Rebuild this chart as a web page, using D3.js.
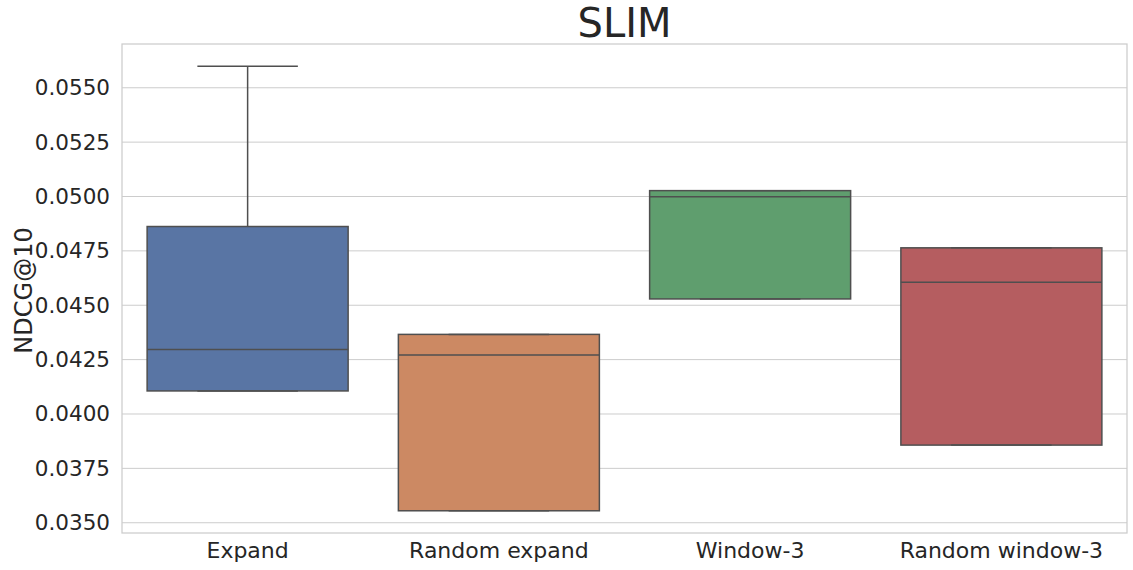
<!DOCTYPE html>
<html lang="en">
<head>
<meta charset="UTF-8">
<title>SLIM</title>
<style>
  body { margin: 0; background: #fff; }
  svg { display: block; }
  svg text { font-family: "DejaVu Sans", Verdana, sans-serif; }
  .grid line { stroke: #cccccc; stroke-width: 1; }
  .tick text { fill: #262626; font-size: 21.5px; }
</style>
</head>
<body>
<div id="chart"></div>
<script src="https://d3js.org/d3.v7.min.js"></script>
<script>
// values
const categories = ["Expand", "Random expand", "Window-3", "Random window-3"];
const whiskerLow = [0.04106, 0.03555, 0.04529, 0.03857];
const q1 = [0.04106, 0.03555, 0.04529, 0.03857];
const median = [0.04297, 0.04271, 0.04999, 0.04606];
const q3 = [0.04862, 0.04366, 0.05027, 0.04764];
const whiskerHigh = [0.05599, 0.04366, 0.05027, 0.04764];
const yTicks = [0.0350, 0.0375, 0.0400, 0.0425, 0.0450, 0.0475, 0.0500, 0.0525, 0.0550];
const colors = ["#5975a4", "#cc8963", "#5f9e6e", "#b55d60"];

const W = 1133, H = 570;
const margin = { top: 44, right: 6, bottom: 37, left: 122 };
const iw = W - margin.left - margin.right;
const ih = H - margin.top - margin.bottom;

const svg = d3.select("#chart").append("svg")
    .attr("width", W)
    .attr("height", H);

const g = svg.append("g")
    .attr("transform", `translate(${margin.left},${margin.top})`);

// matplotlib-style 5% padding around the data range
const lo = d3.min(whiskerLow), hi = d3.max(whiskerHigh);
const pad = (hi - lo) * 0.05;
const y = d3.scaleLinear().domain([lo - pad, hi + pad]).range([ih, 0]);
const x = d3.scaleBand().domain(categories).range([0, iw]).paddingInner(0).paddingOuter(0);

// grid lines
g.append("g")
    .attr("class", "grid")
    .selectAll("line")
    .data(yTicks)
    .enter().append("line")
    .attr("x1", 0).attr("x2", iw)
    .attr("y1", d => y(d)).attr("y2", d => y(d));

// y axis
const yAxis = g.append("g")
    .call(d3.axisLeft(y).tickValues(yTicks).tickFormat(d3.format(".4f")).tickSize(0).tickPadding(12));
yAxis.select(".domain").remove();

// x axis
const xAxis = g.append("g")
    .attr("transform", `translate(0,${ih})`)
    .call(d3.axisBottom(x).tickSize(0).tickPadding(9));
xAxis.select(".domain").remove();
xAxis.selectAll("text").attr("dy", "0.71em").style("font-size", "22px");

// boxes
const lineColor = "#4f4f4f";
const boxW = x.bandwidth() * 0.8;
const capW = x.bandwidth() * 0.4;

const boxes = g.append("g")
    .selectAll("g")
    .data(categories)
    .enter().append("g")
    .attr("transform", d => `translate(${x(d) + x.bandwidth() / 2},0)`);

// whiskers
boxes.append("line")
    .attr("x1", 0).attr("x2", 0)
    .attr("y1", (d, i) => y(whiskerHigh[i]))
    .attr("y2", (d, i) => y(q3[i]))
    .attr("stroke", lineColor).attr("stroke-width", 1.5);
boxes.append("line")
    .attr("x1", 0).attr("x2", 0)
    .attr("y1", (d, i) => y(whiskerLow[i]))
    .attr("y2", (d, i) => y(q1[i]))
    .attr("stroke", lineColor).attr("stroke-width", 1.5);

boxes.append("rect")
    .attr("x", -boxW / 2)
    .attr("width", boxW)
    .attr("y", (d, i) => y(q3[i]))
    .attr("height", (d, i) => y(q1[i]) - y(q3[i]))
    .attr("fill", (d, i) => colors[i])
    .attr("stroke", lineColor)
    .attr("stroke-width", 1.5);

// caps
boxes.append("line")
    .attr("x1", -capW / 2).attr("x2", capW / 2)
    .attr("y1", (d, i) => y(whiskerHigh[i]))
    .attr("y2", (d, i) => y(whiskerHigh[i]))
    .attr("stroke", lineColor).attr("stroke-width", 1.5);
boxes.append("line")
    .attr("x1", -capW / 2).attr("x2", capW / 2)
    .attr("y1", (d, i) => y(whiskerLow[i]))
    .attr("y2", (d, i) => y(whiskerLow[i]))
    .attr("stroke", lineColor).attr("stroke-width", 1.5);

// medians
boxes.append("line")
    .attr("x1", -boxW / 2).attr("x2", boxW / 2)
    .attr("y1", (d, i) => y(median[i]))
    .attr("y2", (d, i) => y(median[i]))
    .attr("stroke", lineColor).attr("stroke-width", 1.5);

// spines
g.append("rect")
    .attr("width", iw).attr("height", ih)
    .attr("fill", "none")
    .attr("stroke", "#cccccc")
    .attr("stroke-width", 1.25);

// title and y label
svg.append("text")
    .attr("x", margin.left + iw / 2)
    .attr("y", 37)
    .attr("text-anchor", "middle")
    .attr("fill", "#262626")
    .style("font-size", "40px")
    .text("SLIM");

svg.append("text")
    .attr("transform", `translate(32,${margin.top + ih / 2 + 2}) rotate(-90)`)
    .attr("text-anchor", "middle")
    .attr("fill", "#262626")
    .style("font-size", "24px")
    .text("NDCG@10");
</script>
</body>
</html>
